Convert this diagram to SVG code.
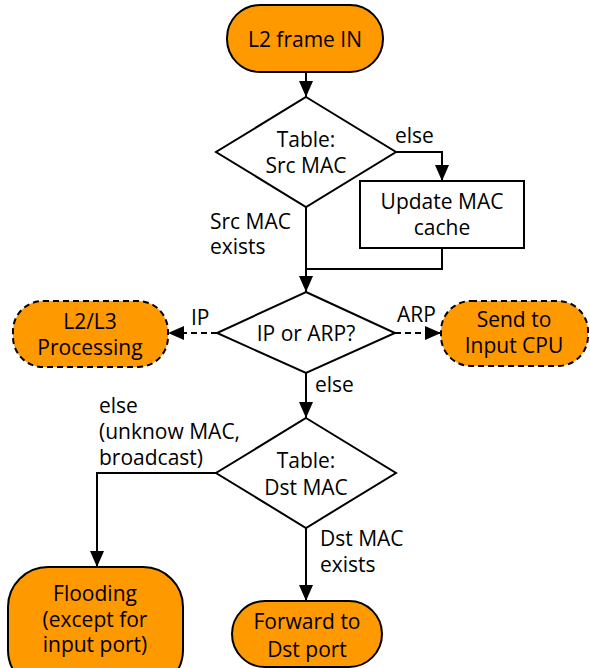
<svg xmlns="http://www.w3.org/2000/svg" width="590" height="668" viewBox="0 0 590 668">
<defs>
<style>
text{font-family:"Open Sans","Noto Sans","Liberation Sans",sans-serif;font-size:21px;fill:#000;}
.c{text-anchor:middle;}
.term{fill:#FF9900;stroke:#000;stroke-width:2;}
.dash{stroke-dasharray:6 4;}
.proc{fill:#fff;stroke:#000;stroke-width:2;}
.edge{fill:none;stroke:#000;stroke-width:2;}
</style>
<marker id="arr" markerUnits="userSpaceOnUse" markerWidth="16" markerHeight="14" refX="16" refY="7" orient="auto">
<path d="M0,0 L16,7 L0,14 z" fill="#000" stroke="none"/>
</marker>
</defs>
<rect width="590" height="668" fill="#fff"/>
<g id="connectors">
<path class="edge" d="M306,72 L306,97" marker-end="url(#arr)"/>
<path class="edge" d="M396,152 L442,152 L442,181" marker-end="url(#arr)"/>
<path class="edge" d="M306,207 L306,292" marker-end="url(#arr)"/>
<path class="edge" d="M442,248 L442,269 L306,269"/>
<path class="edge dash" d="M217,333 L168,333" marker-end="url(#arr)"/>
<path class="edge dash" d="M395,333 L441,333" marker-end="url(#arr)"/>
<path class="edge" d="M306,373 L306,418" marker-end="url(#arr)"/>
<path class="edge" d="M216,473 L97,473 L97,567" marker-end="url(#arr)"/>
<path class="edge" d="M306,528 L306,601" marker-end="url(#arr)"/>
<text x="395" y="143">else</text>
<text x="210" y="229">Src MAC</text>
<text x="210" y="254">exists</text>
<text x="191" y="325">IP</text>
<text x="397" y="322">ARP</text>
<text x="315" y="392">else</text>
<text x="99" y="413">else</text>
<text x="99" y="439">(unknow MAC,</text>
<text x="99" y="465">broadcast)</text>
<text x="320" y="546">Dst MAC</text>
<text x="320" y="572">exists</text>
</g>
<g id="n_start">
<rect class="term" x="227" y="5" width="156" height="67" rx="33"/>
<text class="c" x="305" y="47">L2 frame IN</text>
</g>
<g id="n_srcmac">
<path class="proc" d="M306,97 L396,152 L306,207 L216,152 Z"/>
<text class="c" x="306" y="147">Table:</text>
<text class="c" x="306" y="173">Src MAC</text>
</g>
<g id="n_update">
<rect class="proc" x="360" y="181" width="164" height="67"/>
<text class="c" x="442" y="209">Update MAC</text>
<text class="c" x="442" y="235">cache</text>
</g>
<g id="n_iparp">
<path class="proc" d="M306,292 L395,333 L306,373 L217,333 Z"/>
<text class="c" x="306" y="341">IP or ARP?</text>
</g>
<g id="n_l2l3">
<rect class="term dash" x="13" y="301" width="155" height="66" rx="30"/>
<text class="c" x="90" y="329">L2/L3</text>
<text class="c" x="90" y="355">Processing</text>
</g>
<g id="n_cpu">
<rect class="term dash" x="441" y="301" width="147" height="65" rx="30"/>
<text class="c" x="514" y="327">Send to</text>
<text class="c" x="514" y="353">Input CPU</text>
</g>
<g id="n_dstmac">
<path class="proc" d="M306,418 L396,473 L306,528 L216,473 Z"/>
<text class="c" x="306" y="468">Table:</text>
<text class="c" x="306" y="495">Dst MAC</text>
</g>
<g id="n_flood">
<rect class="term" x="8" y="567" width="175" height="123" rx="40"/>
<text class="c" x="95" y="601">Flooding</text>
<text class="c" x="95" y="627">(except for</text>
<text class="c" x="95" y="652">input port)</text>
</g>
<g id="n_forward">
<rect class="term" x="232" y="601" width="150" height="66" rx="33"/>
<text class="c" x="307" y="629">Forward to</text>
<text class="c" x="307" y="657">Dst port</text>
</g>
</svg>
